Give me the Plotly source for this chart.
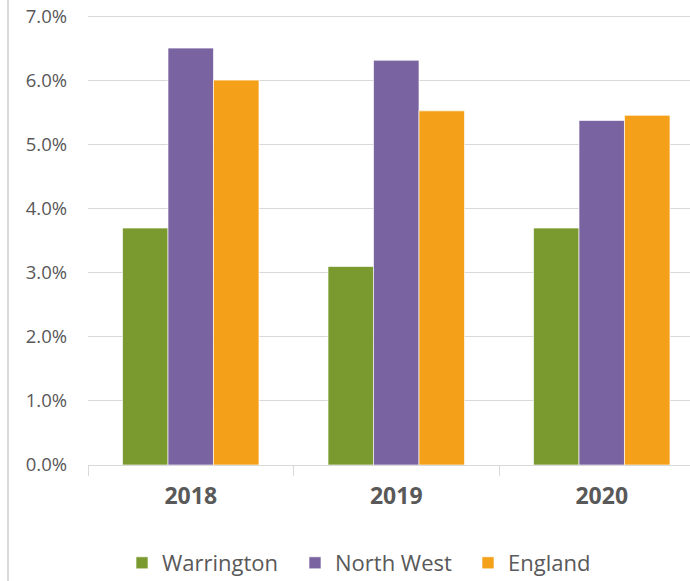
import plotly.graph_objects as go

years = ["2018", "2019", "2020"]
warrington = [3.7, 3.1, 3.7]
north_west = [6.51, 6.32, 5.38]
england = [6.01, 5.53, 5.46]
series_names = ["Warrington", "North West", "England"]
colors = ["#7A992F", "#7964A1", "#F5A019"]
y_ticks = [0, 1, 2, 3, 4, 5, 6, 7]

fig = go.Figure()
for name, vals, col in zip(series_names, [warrington, north_west, england], colors):
    fig.add_trace(go.Bar(
        name=name, x=years, y=vals,
        marker=dict(color=col, line=dict(color="rgba(255,255,255,0.8)", width=0.8)),
        hoverinfo="skip",
    ))

W, H = 690, 581
L, T, B = 88, 0, 116
fig.update_layout(
    width=W, height=H,
    margin=dict(l=L, r=0, t=T, b=B, pad=0, autoexpand=False),
    paper_bgcolor="white", plot_bgcolor="white",
    barmode="group", bargap=0.336, bargroupgap=0,
    font=dict(family="Open Sans", color="#595959"),
    showlegend=True,
    legend=dict(
        orientation="h", x=(122 - L) / (W - L), xanchor="left",
        y=(465 - 563) / 465, yanchor="middle",
        font=dict(size=22, color="#595959"),
        entrywidth=128, entrywidthmode="pixels",
        itemclick=False, traceorder="normal",
    ),
)
fig.update_xaxes(
    range=[-0.5, 2.5 - (704.5 - 690) / 205.5],
    showline=True, linecolor="#D9D9D9", linewidth=1,
    ticks="outside", tickson="boundaries", ticklen=10, tickcolor="#D9D9D9",
    tickfont=dict(size=23, color="#595959", family="Open Sans", weight="bold"),
    ticklabelstandoff=10,
    showgrid=False, zeroline=False, fixedrange=True, automargin=False,
)
fig.update_yaxes(
    range=[0, 465 / 64.04],
    tickvals=y_ticks, ticktext=[f"{v:.1f}%" for v in y_ticks],
    showgrid=True, gridcolor="#D9D9D9", gridwidth=1,
    zeroline=False, showline=False, ticks="",
    tickfont=dict(size=18.5, color="#595959"),
    ticklabelstandoff=20, fixedrange=True, automargin=False,
)
fig.add_shape(type="line", xref="paper", yref="paper",
              x0=(8 - L) / (W - L), x1=(8 - L) / (W - L), y0=-B / 465, y1=1.0,
              line=dict(color="#D9D9D9", width=2))
fig.write_html("out.html", config={"displayModeBar": False},
               post_script="document.body.style.margin='0';document.body.style.overflow='hidden';")
